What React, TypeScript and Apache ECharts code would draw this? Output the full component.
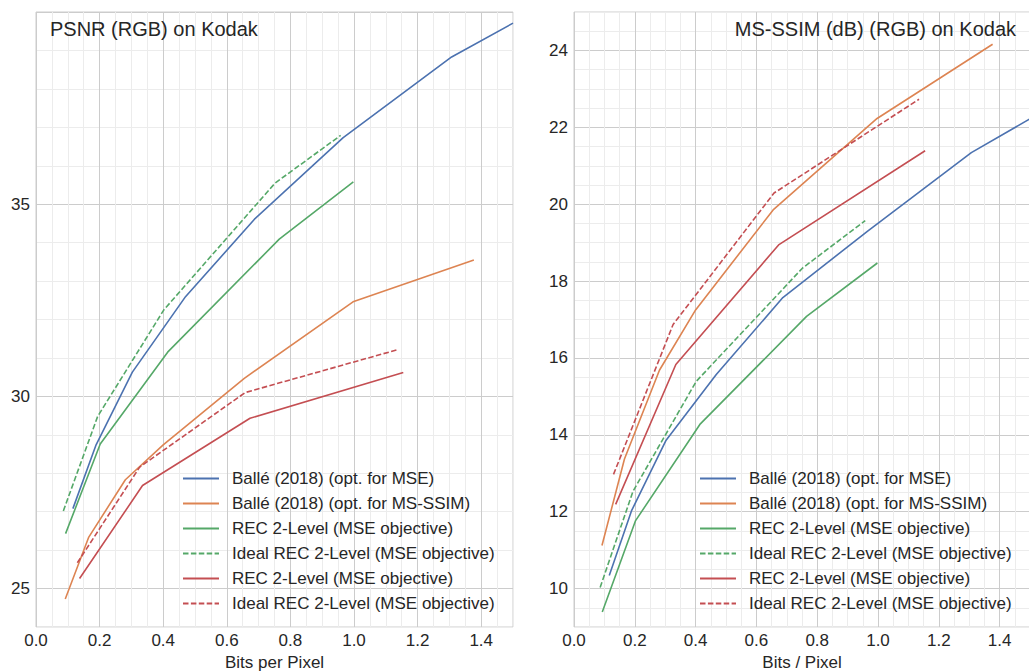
import React, { useEffect, useRef } from "react";
import * as echarts from "echarts";

// ---- Data ----
const legendNames = [
  "Ballé (2018) (opt. for MSE)",
  "Ballé (2018) (opt. for MS-SSIM)",
  "REC 2-Level (MSE objective)",
  "Ideal REC 2-Level (MSE objective)",
  "REC 2-Level (MSE objective) ",
  "Ideal REC 2-Level (MSE objective) ",
];

const balleMseBpp = [0.116, 0.189, 0.303, 0.468, 0.687, 0.966, 1.307, 1.5];
const balleMsePsnr = [27.08, 28.74, 30.63, 32.57, 34.61, 36.73, 38.83, 39.71];
const balleMseMsssim = [10.34, 12.02, 13.86, 15.57, 17.57, 19.3, 21.34, 22.22];

const balleSsimBpp = [0.092, 0.166, 0.281, 0.4, 0.655, 0.997, 1.377];
const balleSsimPsnr = [24.73, 26.34, 27.83, 28.74, 30.47, 32.46, 33.55];
const balleSsimMsssim = [11.12, 13.37, 15.68, 17.25, 19.85, 22.23, 24.16];

const recGreenBpp = [0.093, 0.202, 0.414, 0.765, 0.998];
const recGreenPsnr = [26.43, 28.76, 31.15, 34.09, 35.58];
const recGreenMsssim = [9.39, 11.76, 14.27, 17.08, 18.47];

const idealGreenBpp = [0.086, 0.194, 0.402, 0.752, 0.958];
const idealGreenPsnr = [27.02, 29.48, 32.25, 35.55, 36.79];
const idealGreenMsssim = [10.03, 12.53, 15.39, 18.34, 19.57];

const recRedBpp = [0.137, 0.335, 0.673, 1.155];
const recRedPsnr = [25.26, 27.68, 29.43, 30.62];
const recRedMsssim = [12.19, 15.83, 18.94, 21.39];

const idealRedBpp = [0.13, 0.326, 0.658, 1.135];
const idealRedPsnr = [25.67, 28.16, 30.1, 31.21];
const idealRedMsssim = [12.97, 16.87, 20.29, 22.73];

const titles = ["PSNR (RGB) on Kodak", "MS-SSIM (dB) (RGB) on Kodak"];
const xNames = ["Bits per Pixel", "Bits / Pixel"];

const COLORS = {
  blue: "#4c72b0",
  orange: "#dd8452",
  green: "#55a868",
  red: "#c44e52",
};
const FONT = "'Liberation Sans', Arial, Helvetica, sans-serif";
const TEXT = "#262626";
const MAJOR = "#cccccc";
const MINOR = "#ececec";

const zip = (xs: number[], ys: number[]) => xs.map((x, i) => [x, ys[i]]);
const isMult = (v: number, step: number) =>
  Math.abs(v / step - Math.round(v / step)) < 1e-6;

export default function App() {
  const ref = useRef<HTMLDivElement>(null);

  useEffect(() => {
    if (!ref.current) return;
    const chart = echarts.init(ref.current, undefined, { renderer: "svg" });

    const groups = [
      {
        name: legendNames[0],
        color: COLORS.blue,
        dashed: false,
        data: [zip(balleMseBpp, balleMsePsnr), zip(balleMseBpp, balleMseMsssim)],
      },
      {
        name: legendNames[1],
        color: COLORS.orange,
        dashed: false,
        data: [zip(balleSsimBpp, balleSsimPsnr), zip(balleSsimBpp, balleSsimMsssim)],
      },
      {
        name: legendNames[2],
        color: COLORS.green,
        dashed: false,
        data: [zip(recGreenBpp, recGreenPsnr), zip(recGreenBpp, recGreenMsssim)],
      },
      {
        name: legendNames[3],
        color: COLORS.green,
        dashed: true,
        data: [zip(idealGreenBpp, idealGreenPsnr), zip(idealGreenBpp, idealGreenMsssim)],
      },
      {
        name: legendNames[4],
        color: COLORS.red,
        dashed: false,
        data: [zip(recRedBpp, recRedPsnr), zip(recRedBpp, recRedMsssim)],
      },
      {
        name: legendNames[5],
        color: COLORS.red,
        dashed: true,
        data: [zip(idealRedBpp, idealRedPsnr), zip(idealRedBpp, idealRedMsssim)],
      },
    ];

    const series: any[] = [];
    [0, 1].forEach((gi) => {
      groups.forEach((g) => {
        series.push({
          type: "line",
          name: g.name,
          xAxisIndex: gi,
          yAxisIndex: gi,
          data: g.data[gi],
          symbol: "none",
          showSymbol: false,
          color: g.color,
          lineStyle: {
            color: g.color,
            width: 1.6,
            type: g.dashed ? [5.5, 2.4] : "solid",
          },
          z: 3,
        });
      });
    });

    const xAxisBase = (gi: number) => ({
      type: "value",
      gridIndex: gi,
      min: 0,
      max: 1.5,
      interval: 0.05,
      name: xNames[gi],
      nameLocation: "middle",
      nameGap: 23,
      nameTextStyle: { fontSize: 17, color: TEXT, fontFamily: FONT },
      axisLine: { show: false },
      axisTick: { show: false },
      axisLabel: {
        fontSize: 17,
        color: TEXT,
        fontFamily: FONT,
        margin: 5,
        formatter: (v: number) => (isMult(v, 0.2) ? v.toFixed(1) : ""),
      },
      splitLine: {
        show: true,
        lineStyle: { color: [MAJOR, MINOR, MINOR, MINOR], width: 1 },
      },
    });

    const gridBase = {
      top: 12,
      height: 615,
      show: true,
      borderColor: MAJOR,
      borderWidth: 1,
      backgroundColor: "transparent",
      containLabel: false,
      outerBoundsMode: "none",
    };

    const option: any = {
      animation: false,
      backgroundColor: "#ffffff",
      textStyle: { fontFamily: FONT },
      title: [
        {
          text: titles[0],
          left: 50,
          top: 19,
          padding: 0,
          textStyle: { fontSize: 20, fontWeight: "normal", color: TEXT, fontFamily: FONT },
        },
        {
          text: titles[1],
          right: 13,
          top: 19,
          padding: 0,
          textStyle: { fontSize: 20, fontWeight: "normal", color: TEXT, fontFamily: FONT },
        },
      ],
      grid: [
        { ...gridBase, left: 36, width: 477 },
        { ...gridBase, left: 574, width: 456 },
      ],
      xAxis: [xAxisBase(0), xAxisBase(1)],
      yAxis: [
        {
          type: "value",
          gridIndex: 0,
          min: 24,
          max: 40,
          interval: 1,
          axisLine: { show: false },
          axisTick: { show: false },
          axisLabel: {
            fontSize: 17,
            color: TEXT,
            fontFamily: FONT,
            margin: 6,
            formatter: (v: number) => (isMult(v, 5) && v < 40 ? String(v) : ""),
          },
          splitLine: {
            show: true,
            lineStyle: { color: [MINOR, MAJOR, MINOR, MINOR, MINOR], width: 1 },
          },
        },
        {
          type: "value",
          gridIndex: 1,
          min: 9,
          max: 25,
          interval: 0.5,
          axisLine: { show: false },
          axisTick: { show: false },
          axisLabel: {
            fontSize: 17,
            color: TEXT,
            fontFamily: FONT,
            margin: 6,
            formatter: (v: number) => (isMult(v, 2) ? String(Math.round(v)) : ""),
          },
          splitLine: {
            show: true,
            lineStyle: { color: [MINOR, MINOR, MAJOR, MINOR], width: 1 },
          },
        },
      ],
      legend: [182, 699].map((lx) => ({
        orient: "vertical",
        left: lx,
        top: 470,
        padding: 0,
        itemWidth: 36,
        itemHeight: 14,
        itemGap: 8,
        selectedMode: false,
        data: legendNames,
        itemStyle: { opacity: 0 },
        formatter: (n: string) => n.trim(),
        textStyle: {
          fontSize: 17,
          lineHeight: 17,
          color: TEXT,
          fontFamily: FONT,
          padding: [0, 0, 0, 8],
        },
      })),
      series,
    };

    chart.setOption(option);
    return () => chart.dispose();
  }, []);

  return (
    <div
      ref={ref}
      style={{ position: "absolute", left: 0, top: 0, width: 1029, height: 671 }}
    />
  );
}
